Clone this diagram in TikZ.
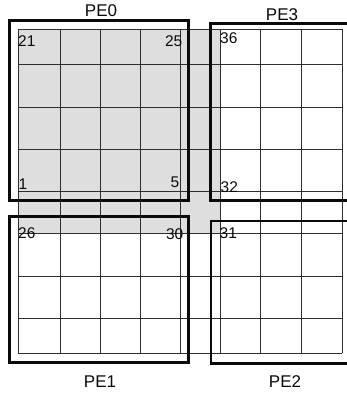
\documentclass[tikz,border=0pt]{standalone}
\usepackage{fontspec}
\setmainfont{Liberation Sans}
\definecolor{peInk}{HTML}{0A0A0A}
\definecolor{peRule}{HTML}{2E2E2E}
\definecolor{peShade}{HTML}{DEDEDE}
\tikzset{
  pe shade/.style={fill=peShade},
  pe grid/.style={draw=peRule, line width=.9pt},
  pe box/.style={draw=peInk, line width=2.8pt},
  pe num/.style={font=\fontsize{15.5}{18}\selectfont, text=peInk, inner sep=0},
  pe label/.style={font=\fontsize{17}{20}\selectfont, text=peInk, inner sep=0}
}

\begin{document}
\begin{tikzpicture}[x=1pt,y=-1pt]
  \useasboundingbox (0,0) rectangle (347,394);
  \clip (0,0) rectangle (347,394);
  \path[pe shade] (18,29) rectangle (220,233);

  \foreach \gx in {18,60,100,140,180,220,260,301,342}
    \draw[pe grid] (\gx,29) -- (\gx,353);
  \foreach \gy in {29,64,107,149,191,233,276,318,353}
    \draw[pe grid] (18,\gy) -- (342,\gy);

  \draw[pe box] (9.5,20.5) rectangle (188.5,200.5);
  \draw[pe box] (210.5,23.5) rectangle (352,200.5);
  \draw[pe box] (9.5,216.5) rectangle (188.5,362.5);
  \draw[pe box] (211,221) rectangle (352,363.5);

  \node[pe label] (pe0) at (101,11) {PE0};
  \node[pe label] (pe3) at (282,14.5) {PE3};
  \node[pe label] (pe1) at (100,381.5) {PE1};
  \node[pe label] (pe2) at (285,382) {PE2};

  \node[pe num, anchor=base west] (n21) at (18,46) {21};
  \node[pe num, anchor=base east] (n25) at (182.5,46) {25};
  \node[pe num, anchor=base west] (n36) at (220,43) {36};
  \node[pe num, anchor=base west] (n1) at (18.5,189.5) {1};
  \node[pe num, anchor=base east] (n5) at (179.5,187.5) {5};
  \node[pe num, anchor=base west] (n32) at (220.5,192.5) {32};
  \node[pe num, anchor=base west] (n26) at (18,238.5) {26};
  \node[pe num, anchor=base east] (n30) at (183.5,239) {30};
  \node[pe num, anchor=base west] (n31) at (219.5,238.5) {31};
\end{tikzpicture}
\end{document}
